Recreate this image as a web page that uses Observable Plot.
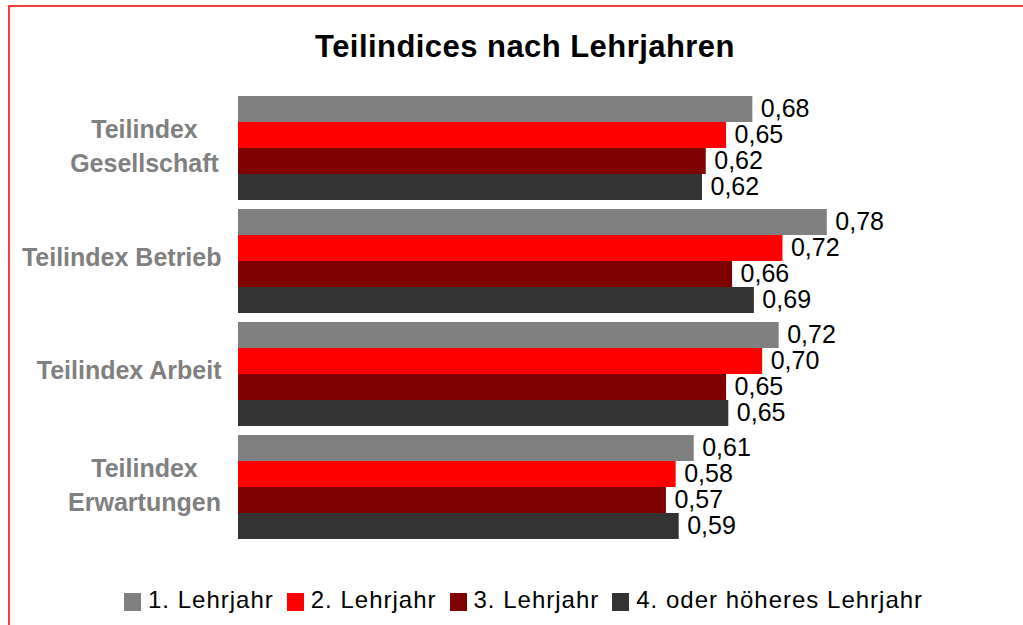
<!DOCTYPE html>
<html>
<head>
<meta charset="utf-8">
<script src="https://cdn.jsdelivr.net/npm/d3@7"></script>
<script src="https://cdn.jsdelivr.net/npm/@observablehq/plot@0.6"></script>
<style>
  html, body { margin: 0; padding: 0; background: #fff; }
  body { width: 1023px; height: 625px; overflow: hidden; position: relative; font-family: "Liberation Sans", Arial, sans-serif; }
  #frame { position: absolute; left: 8px; top: 5px; width: 1200px; height: 800px; border-left: 2px solid #ff3b3b; border-top: 2px solid #ff3b3b; z-index: 5; pointer-events: none; }
  #title { position: absolute; left: 0; width: 1050px; top: 31px; text-align: center; font-size: 31px; line-height: 31px; font-weight: bold; color: #000; letter-spacing: 0.45px; }
  #chart { position: absolute; left: 0; top: 80px; }
  #legend { position: absolute; left: 124px; top: 588px; display: flex; align-items: center; font-size: 24px; line-height: 24px; letter-spacing: 1.0px; color: #000; white-space: nowrap; }
  .item { display: flex; align-items: center; margin-right: 13px; }
  .sw { width: 17px; height: 18px; margin-right: 7px; position: relative; top: 2px; }
</style>
</head>
<body>
<div id="title">Teilindices nach Lehrjahren</div>
<div id="chart"></div>
<div id="legend"></div>
<div id="frame"></div>
<script>
const categories = ["Teilindex\nGesellschaft", "Teilindex Betrieb", "Teilindex Arbeit", "Teilindex\nErwartungen"];
const series = ["1. Lehrjahr", "2. Lehrjahr", "3. Lehrjahr", "4. oder höheres Lehrjahr"];
const colors = ["#808080", "#ff0000", "#7f0000", "#333333"];
const lehrjahr1 = [0.684, 0.783, 0.719, 0.606];
const lehrjahr2 = [0.649, 0.724, 0.697, 0.582];
const lehrjahr3 = [0.622, 0.657, 0.649, 0.569];
const lehrjahr4 = [0.617, 0.686, 0.652, 0.586];

const seriesValues = [lehrjahr1, lehrjahr2, lehrjahr3, lehrjahr4];
const rows = [];
categories.forEach((c, i) => {
  series.forEach((s, j) => rows.push({category: c, series: s, value: seriesValues[j][i]}));
});
const fmt = v => v.toFixed(2).replace(".", ",");
const multi = categories.filter(c => c.includes("\n"));
const single = categories.filter(c => !c.includes("\n"));

const chart = Plot.plot({
  width: 1023,
  height: 470,
  marginLeft: 238,
  marginRight: 33,
  marginTop: 11,
  marginBottom: 6,
  style: { fontFamily: "'Liberation Sans', Arial, sans-serif", background: "transparent" },
  x: { domain: [0, 1], axis: null },
  y: { domain: series, padding: 0, axis: null },
  fy: { domain: categories, paddingInner: 0.07, paddingOuter: 0.035, axis: null },
  color: { domain: series, range: colors },
  marks: [
    Plot.barX(rows, { fy: "category", y: "series", x: "value", fill: "series" }),
    Plot.text(rows, { fy: "category", y: "series", x: "value", text: d => fmt(d.value), dx: 8, dy: -1, textAnchor: "start", fontSize: 25, fill: "#000" }),
    Plot.text(single, { fy: d => d, text: d => d, frameAnchor: "left", textAnchor: "end", dx: -17, dy: -3, fontSize: 25, fontWeight: "bold", fill: "#808080" }),
    Plot.text(multi, { fy: d => d, text: d => d, frameAnchor: "left", textAnchor: "middle", dx: -94, dy: -4, fontSize: 25, lineHeight: 1.36, fontWeight: "bold", fill: "#808080" })
  ]
});
document.getElementById("chart").appendChild(chart);

const legend = document.getElementById("legend");
series.forEach((s, i) => {
  const item = document.createElement("div");
  item.className = "item";
  const sw = document.createElement("span");
  sw.className = "sw";
  sw.style.background = colors[i];
  const t = document.createElement("span");
  t.textContent = s;
  item.appendChild(sw);
  item.appendChild(t);
  legend.appendChild(item);
});
</script>
</body>
</html>
